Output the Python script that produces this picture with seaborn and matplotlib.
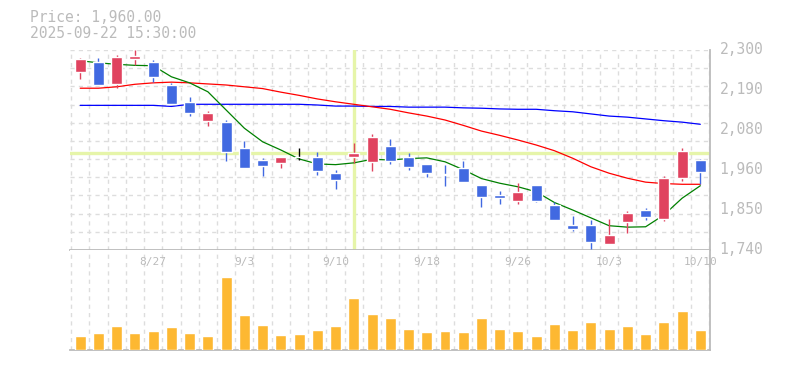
import numpy as np
import seaborn as sns
import matplotlib.pyplot as plt

# 日足データ (読み取り値)
dates = ["8/21", "8/22", "8/25", "8/26", "8/27", "8/28", "8/29", "9/1", "9/2", "9/3",
         "9/4", "9/5", "9/8", "9/9", "9/10", "9/11", "9/12", "9/16", "9/17", "9/18",
         "9/19", "9/22", "9/24", "9/25", "9/26", "9/29", "9/30", "10/1", "10/2", "10/3",
         "10/6", "10/7", "10/8", "10/9", "10/10"]
opens = [2239, 2266, 2206, 2275, 2266, 2202, 2154, 2102, 2098, 2026,
         1993, 1984, 2000, 2000, 1956, 2001, 1987, 2031, 2000, 1981,
         1954, 1970, 1922, 1894, 1878, 1922, 1866, 1810, 1810, 1758,
         1819, 1852, 1828, 1942, 1992]
closes = [2275, 2203, 2280, 2284, 2225, 2150, 2124, 2124, 2015, 1970,
          1976, 2001, 2000, 1962, 1937, 2012, 2056, 1990, 1973, 1956,
          1949, 1931, 1889, 1886, 1902, 1878, 1825, 1800, 1763, 1782,
          1844, 1833, 1942, 2017, 1959]
highs = [2278, 2278, 2287, 2300, 2272, 2208, 2168, 2130, 2104, 2046,
         1998, 2001, 2026, 2014, 1964, 2040, 2065, 2051, 2012, 1981,
         1978, 1989, 1922, 1905, 1928, 1922, 1875, 1836, 1824, 1826,
         1849, 1858, 1947, 2026, 1996]
lows = [2219, 2203, 2194, 2257, 2211, 2150, 2116, 2088, 1990, 1970,
        1948, 1970, 1992, 1951, 1912, 1983, 1962, 1982, 1965, 1945,
        1920, 1931, 1861, 1870, 1870, 1874, 1825, 1794, 1744, 1758,
        1788, 1825, 1822, 1934, 1924]
volumes = [70, 85, 115, 85, 95, 110, 85, 70, 355, 170,
           120, 75, 80, 100, 115, 255, 175, 155, 105, 90,
           95, 90, 155, 105, 95, 70, 125, 100, 135, 105,
           115, 80, 135, 190, 100]
ma_short = [2270, 2264, 2260, 2257, 2256, 2225, 2208, 2183, 2132, 2081,
            2043, 2020, 1995, 1981, 1979, 1984, 1994, 1992, 1996, 1998,
            1987, 1965, 1940, 1927, 1917, 1903, 1873, 1852, 1830, 1808,
            1804, 1805, 1838, 1885, 1920]
ma_mid = [2193, 2193, 2197, 2204, 2208, 2210, 2208, 2205, 2202, 2197,
          2192, 2182, 2173, 2163, 2155, 2148, 2141, 2134, 2124, 2115,
          2104, 2089, 2073, 2061, 2048, 2034, 2018, 1997, 1973, 1955,
          1941, 1930, 1926, 1924, 1924]
ma_long = [2145, 2145, 2145, 2145, 2145, 2142, 2148, 2148, 2148, 2148,
           2148, 2148, 2148, 2146, 2143, 2143, 2142, 2142, 2140, 2140,
           2140, 2138, 2137, 2135, 2134, 2134, 2130, 2127, 2121, 2115,
           2112, 2107, 2102, 2098, 2092]
tick_dates = ["8/27", "9/3", "9/10", "9/18", "9/26", "10/3", "10/10"]
cursor_date = "9/11"
cursor_price = 2011
header = ["Price: 1,960.00", "2025-09-22 15:30:00"]

y_min, y_max = 1740, 2300
txt = "#bbbbbb"
grid_c = "#dddddd"
up_c, down_c = "#e0435f", "#4169e1"

sns.set_style("white")
plt.rcParams["font.family"] = ["DejaVu Sans Mono", "DejaVu Sans"]

fig = plt.figure(figsize=(7.85, 3.7), dpi=100)
ax = fig.add_axes([70 / 785, 1 - 250 / 370, 640 / 785, 200 / 370])
axv = fig.add_axes([70 / 785, 1 - 350 / 370, 640 / 785, 100 / 370])

idx = np.arange(len(dates))
xlim = (-0.56, len(dates) - 0.47)

# grids
for a in (ax, axv):
    for g in np.arange(-0.5, len(dates), 1):
        a.axvline(g, color=grid_c, lw=1, ls=(0, (3, 3)), zorder=0)
for g in np.linspace(y_min, y_max, 12)[1:]:
    ax.axhline(g, color=grid_c, lw=1, ls=(0, (3, 3)), zorder=0)

# crosshair
ax.axvline(dates.index(cursor_date), color="#e6f5a9", lw=2.4, zorder=1)
ax.axhline(cursor_price, color="#e6f5a9", lw=2.4, zorder=1)

# moving averages
sns.lineplot(x=idx, y=ma_long, ax=ax, color="#0000ff", lw=0.9, zorder=2)
sns.lineplot(x=idx, y=ma_mid, ax=ax, color="#ff0000", lw=0.9, zorder=2)
sns.lineplot(x=idx, y=ma_short, ax=ax, color="#008000", lw=0.9, zorder=2)

# candles
o, c, h, l = map(np.array, (opens, closes, highs, lows))
cols = np.where(c > o, up_c, np.where(c < o, down_c, "black"))
ax.vlines(idx, l, h, colors=cols, lw=1, zorder=3)
body = np.abs(c - o)
body = np.where(body == 0, 1.5, body)
ax.bar(idx, body, bottom=np.minimum(o, c), width=0.6, color=cols, zorder=4)

ax.set_xlim(*xlim)
ax.set_ylim(y_min, y_max)
ax.set_xticks([])
ax.set_yticks([])
ax.set_xlabel("")
ax.set_ylabel("")
for s in ("left", "top"):
    ax.spines[s].set_visible(False)
for s in ("right", "bottom"):
    ax.spines[s].set_color("#bbbbbb")
    ax.spines[s].set_linewidth(1.3)

for v in np.linspace(y_min, y_max, 6):
    ax.text(1.015, (v - y_min) / (y_max - y_min), f"{round(v, -1):,.0f}",
            transform=ax.transAxes, ha="left", va="center", fontsize=10.5,
            color=txt)

# volume
sns.barplot(x=idx, y=volumes, ax=axv, color="#fdb832", width=0.6,
            saturation=1, errorbar=None, zorder=3)
axv.set_xlim(*xlim)
axv.set_ylim(0, max(volumes) * 97.7 / 71)
axv.set_xticks([])
axv.set_yticks([])
axv.set_xlabel("")
axv.set_ylabel("")
for s in ("left", "top"):
    axv.spines[s].set_visible(False)
for s in ("right", "bottom"):
    axv.spines[s].set_color("#bbbbbb")
    axv.spines[s].set_linewidth(1.3)

for d in tick_dates:
    axv.text(dates.index(d), 0.88, d, transform=axv.get_xaxis_transform(),
             ha="center", va="center", fontsize=8, color=txt)

fig.text(30 / 785, 1 - 17 / 370, header[0], ha="left", va="center",
         fontsize=10.5, color=txt)
fig.text(30 / 785, 1 - 33 / 370, header[1], ha="left", va="center",
         fontsize=10.5, color=txt)

fig.savefig("out.png", dpi=100)
